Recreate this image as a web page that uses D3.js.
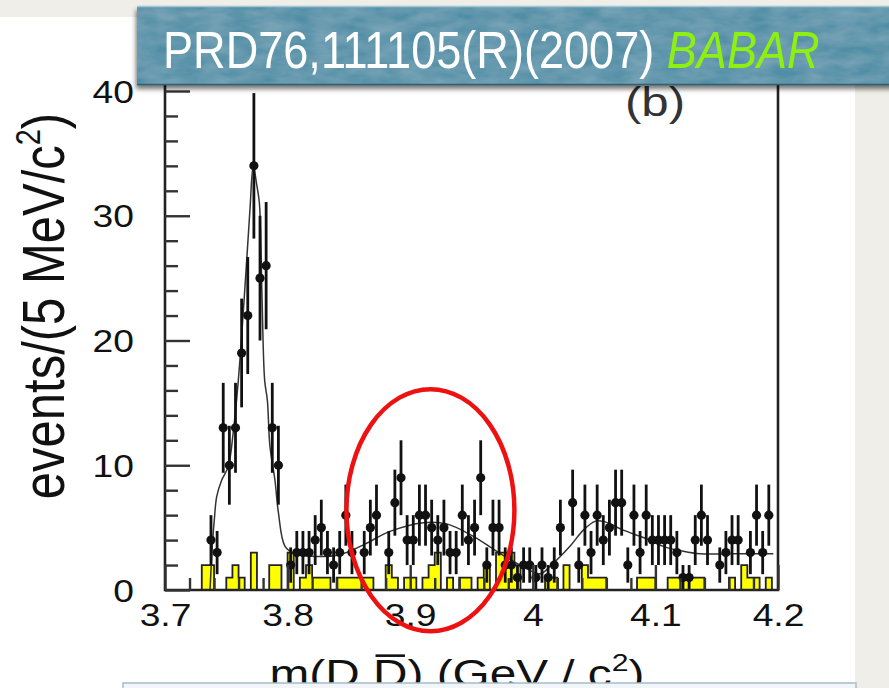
<!DOCTYPE html>
<html><head><meta charset="utf-8">
<script src="https://cdn.jsdelivr.net/npm/d3@7"></script>
<style>
html,body{margin:0;padding:0;background:#efeee8;}
svg{display:block;}
</style></head>
<body>
<svg id="chart" width="889" height="688"></svg>
<script>
// m(D Dbar) spectrum, 5 MeV/c^2 bins from 3.70 to 4.20 GeV/c^2
const binLow = 3.70, binWidth = 0.005;

// Data points: bin index and events per bin
const pointBins   = [7, 8, 9,10,11,12,13,14,15,16,17,18,20,21,22,23,24,25,26,27,28,29,30,32,33,34,36,37,38,39,40,41,42,43,44,45,46,47,48,49,50,51,52,53,54,55,56,57,58,59,60,61,62,63,64,66,67,68,69,70,71,72,73,74,75,76,77,78,79,80,81,82,83,84,85,86,87,88,90,91,92,93,95,96,97,98];
const pointCounts = [4, 3,13,10,13,19,22,34,25,26,13,10, 2, 3, 3, 3, 4, 5, 3, 2, 3, 6, 3, 3, 5, 6, 3, 7, 9, 4, 4, 6, 6, 5, 4, 5, 3, 3, 6, 4, 5, 9, 2, 5, 5, 2, 2, 1, 2, 2, 1, 2, 1, 2, 5, 7, 2, 6, 3, 6, 4, 5, 7, 7, 2, 6, 3, 6, 4, 4, 4, 4, 3, 1, 1, 4, 6, 4, 2, 3, 4, 4, 3, 6, 3, 6];

// Background histogram (yellow): bin index and events per bin
const bkgBins   = [6,7,10,11,12,14,17,18,20,22,23,24,25,26,28,29,30,31,32,33,36,37,39,40,42,43,44,46,48,49,51,52,54,55,56,57,62,63,65,68,69,70,71,77,78,79,82,83,84,85,86,87,92,94,95,96,98];
const bkgCounts = [2,2, 1, 2, 1, 3, 2, 2, 3, 1, 2, 1, 1, 1, 1, 1, 1, 1, 1, 1, 2, 1, 1, 1, 1, 2, 3, 1, 1, 1, 1, 2, 3, 3, 3, 2, 1, 1, 2, 2, 1, 1, 1, 1, 1, 1, 1, 1, 1, 1, 1, 1, 1, 2, 1, 1, 1];

// Fit curve samples (GeV/c^2, events)
const fitMass   = [3.7367,3.7389,3.7402,3.7422,3.7462,3.7516,3.7555,3.7598,3.7657,3.7693,3.7720,3.7748,3.7770,3.7790,3.7813,3.7835,3.7856,3.7897,3.7925,3.7979,3.8061,3.8197,3.8415,3.8615,3.8835,3.9107,3.9298,3.9515,3.9706,3.9896,4.0059,4.0140,4.0303,4.0412,4.0507,4.0575,4.0738,4.0929,4.1064,4.1228,4.1364,4.1635,4.1962];
const fitCounts = [0.0,   4.0,   5.6,   7.5,   8.8,   9.9,   12.5,  16.8,  25.0,  30.5,  34.0,  32.5,  31.0,  24.0,  16.8,  15.2,  11.5,  8.8,   6.2,   3.5,   2.9,   2.7,   2.8,   3.6,   4.7,   5.4,   5.3,   4.3,   3.1,   2.0,   1.3,   1.9,   3.5,   4.8,   5.5,   5.5,   4.8,   4.1,   3.5,   3.1,   2.9,   2.9,   2.9];

const xTicks = [3.7, 3.8, 3.9, 4.0, 4.1, 4.2];
const xTickLabels = ["3.7", "3.8", "3.9", "4", "4.1", "4.2"];
const yTicks = [0, 10, 20, 30, 40];

const svg = d3.select("#chart");
const W = 889, H = 688;
const stretch = 1.2; // glyphs of the plot are drawn wide

const x = d3.scaleLinear().domain([3.70, 4.20]).range([165, 778]);
const y = d3.scaleLinear().domain([0, 40]).range([590, 91]);

const defs = svg.append("defs");
// mottled texture for the title banner
const tex = defs.append("filter").attr("id", "tex").attr("x", 0).attr("y", 0).attr("width", 1).attr("height", 1);
tex.append("feTurbulence").attr("type", "fractalNoise").attr("baseFrequency", "0.035 0.09").attr("numOctaves", 3).attr("seed", 4).attr("result", "noise");
tex.append("feColorMatrix").attr("in", "noise").attr("type", "matrix")
  .attr("values", "0 0 0 0 0.85  0 0 0 0 0.95  0 0 0 0 1  0 0 0 0.22 -0.04").attr("result", "tint");
tex.append("feComposite").attr("in", "tint").attr("in2", "SourceGraphic").attr("operator", "in").attr("result", "tintc");
tex.append("feMerge").call(m => { m.append("feMergeNode").attr("in", "SourceGraphic"); m.append("feMergeNode").attr("in", "tintc"); });
const shadow = defs.append("filter").attr("id", "shadow").attr("x", -0.05).attr("y", -0.2).attr("width", 1.1).attr("height", 1.5);
shadow.append("feGaussianBlur").attr("in", "SourceAlpha").attr("stdDeviation", 2.5).attr("result", "b");
shadow.append("feOffset").attr("in", "b").attr("dx", -1).attr("dy", 4).attr("result", "o");
shadow.append("feComponentTransfer").attr("in", "o").attr("result", "oa").append("feFuncA").attr("type", "linear").attr("slope", 0.55);
shadow.append("feMerge").call(m => { m.append("feMergeNode").attr("in", "oa"); m.append("feMergeNode").attr("in", "SourceGraphic"); });

// page panels
svg.append("rect").attr("width", W).attr("height", H).attr("fill", "#efeee8");
svg.append("rect").attr("x", 0).attr("y", 17).attr("width", 855).attr("height", H - 17).attr("fill", "#ffffff");

const plot = svg.append("g");

// background histogram as a filled step contour
const bkgFull = d3.range(100).map(i => { const j = bkgBins.indexOf(i); return j < 0 ? 0 : bkgCounts[j]; });
const stepPts = [];
bkgFull.forEach((c, i) => {
  const lo = binLow + i * binWidth, hi = lo + binWidth;
  stepPts.push([lo, c], [hi, c]);
});
const areaGen = d3.area().x(d => x(d[0])).y0(y(0)).y1(d => y(d[1]));
const lineGen = d3.line().x(d => x(d[0])).y(d => y(d[1]));
plot.append("path").attr("d", areaGen(stepPts)).attr("fill", "#ffff00").attr("stroke", "none");
plot.append("path").attr("d", lineGen(stepPts)).attr("fill", "none").attr("stroke", "#222").attr("stroke-width", 1.8);

// fit curve
plot.append("path")
  .attr("d", d3.line().x((d, i) => x(fitMass[i])).y(d => y(d)).curve(d3.curveCatmullRom.alpha(0.5))(fitCounts))
  .attr("fill", "none").attr("stroke", "#333").attr("stroke-width", 1.5);

// data points with sqrt(N) error bars
const pts = pointBins.map((b, i) => ({ m: binLow + (b + 0.5) * binWidth, n: pointCounts[i] }));
const yTop = y.invert(80);
plot.selectAll("line.err").data(pts).join("line").attr("class", "err")
  .attr("x1", d => x(d.m)).attr("x2", d => x(d.m))
  .attr("y1", d => y(Math.min(d.n + Math.sqrt(d.n), yTop)))
  .attr("y2", d => y(Math.max(d.n - Math.sqrt(d.n), 0)))
  .attr("stroke", "#111").attr("stroke-width", 2.8);
plot.selectAll("circle.pt").data(pts).join("circle").attr("class", "pt")
  .attr("cx", d => x(d.m)).attr("cy", d => y(d.n)).attr("r", 4.6).attr("fill", "#111");

// frame
const frameTop = 78;
svg.append("path")
  .attr("d", `M${x(3.7)},${frameTop}V${y(0)}H${x(4.2)}V${frameTop}`)
  .attr("fill", "none").attr("stroke", "#222").attr("stroke-width", 2.6);

// axes with inward ticks
const axisFont = "'Liberation Sans', Arial, Helvetica, sans-serif";
const yAxis = svg.append("g").attr("transform", `translate(${x(3.7)},0)`)
  .call(d3.axisLeft(y).tickValues(yTicks).tickSizeInner(-25).tickSizeOuter(0).tickPadding(31).tickFormat(d3.format("d")));
const yMinor = svg.append("g").attr("transform", `translate(${x(3.7)},0)`)
  .call(d3.axisLeft(y).tickValues(d3.range(0, 41, 2).filter(v => v % 10 !== 0)).tickSizeInner(-13).tickSizeOuter(0).tickFormat(""));
const xAxis = svg.append("g").attr("transform", `translate(0,${y(0)})`)
  .call(d3.axisBottom(x).tickValues(xTicks).tickSizeInner(-25).tickSizeOuter(0).tickPadding(14).tickFormat((d, i) => xTickLabels[i]));
const xMinor = svg.append("g").attr("transform", `translate(0,${y(0)})`)
  .call(d3.axisBottom(x).tickValues(d3.range(3.72, 4.2, 0.02).filter(v => Math.abs(v * 10 - Math.round(v * 10)) > 1e-6)).tickSizeInner(-12).tickSizeOuter(0).tickFormat(""));
[yAxis, yMinor, xAxis, xMinor].forEach(g => {
  g.select(".domain").remove();
  g.selectAll(".tick line").attr("stroke", "#333").attr("stroke-width", 2.4);
  g.selectAll(".tick text").attr("fill", "#111").attr("font-family", axisFont).attr("font-size", 31)
    .each(function () {
      const t = d3.select(this);
      const x0 = +t.attr("x") || 0;
      t.attr("x", 0).attr("transform", `translate(${x0},0) scale(${stretch},1)`);
    });
});
yAxis.selectAll(".tick text").attr("dy", "0.36em");

// axis titles
svg.append("text")
  .attr("transform", `translate(64,306) scale(${stretch},1) rotate(-90)`)
  .attr("text-anchor", "middle").attr("font-family", axisFont).attr("font-size", 49).attr("fill", "#111")
  .call(t => {
    t.append("tspan").text("events/(5 MeV/c");
    t.append("tspan").attr("font-size", 29).attr("dy", -20).text("2");
    t.append("tspan").attr("dy", 20).text(")");
  });

// stretch a text horizontally about its anchor to span a given width
function spanWidth(sel, ax, width) {
  const w = sel.node().getComputedTextLength();
  sel.attr("transform", `translate(${ax},0) scale(${width / w},1) translate(${-ax},0)`);
  return width / w;
}

const xt = svg.append("text").attr("x", 457).attr("y", 687).attr("text-anchor", "middle")
  .attr("font-family", axisFont).attr("font-size", 38).attr("fill", "#111");
xt.append("tspan").text("m(D ");
xt.append("tspan").text("D");
xt.append("tspan").text(") (GeV / c");
xt.append("tspan").attr("font-size", 24).attr("dy", -16).text("2");
xt.append("tspan").attr("dy", 16).text(")");
const xtScale = spanWidth(xt, 457, 375);
// bar over the anti-D
{
  const ext = xt.node().getExtentOfChar(4);
  const gx = v => 457 + (v - 457) * xtScale;
  svg.append("line").attr("x1", gx(ext.x + 2)).attr("x2", gx(ext.x + ext.width - 2))
    .attr("y1", ext.y + 3).attr("y2", ext.y + 3).attr("stroke", "#111").attr("stroke-width", 2.6);
}

// panel label
svg.append("text").attr("x", 0).attr("y", 116).attr("text-anchor", "middle")
  .attr("transform", `translate(655,0) scale(${stretch},1)`)
  .attr("font-family", axisFont).attr("font-size", 41).attr("fill", "#333").text("(b)");

// highlighted region around 3.92 GeV/c^2
const ellC = { m: 3.9165, n: 6.4 }, ellR = { m: 0.0685, n: 9.7 };
svg.append("ellipse")
  .attr("cx", x(ellC.m)).attr("cy", y(ellC.n))
  .attr("rx", x(ellC.m + ellR.m) - x(ellC.m)).attr("ry", y(0) - y(ellR.n))
  .attr("fill", "none").attr("stroke", "#ee1111").attr("stroke-width", 4.5);

// footer box
svg.append("rect").attr("x", 123).attr("y", 683).attr("width", 733).attr("height", 10)
  .attr("fill", "#f3f6f8").attr("stroke", "#a7bccb").attr("stroke-width", 1.5);

// title banner
const banner = svg.append("g").attr("filter", "url(#shadow)");
banner.append("rect").attr("x", 137).attr("y", 6).attr("width", 760).attr("height", 79)
  .attr("fill", "#4f8ea6").attr("filter", "url(#tex)");
svg.append("line").attr("x1", 137).attr("x2", 889).attr("y1", 6.5).attr("y2", 6.5).attr("stroke", "#9fc7d6").attr("stroke-width", 1.5);
svg.append("line").attr("x1", 137).attr("x2", 889).attr("y1", 84.5).attr("y2", 84.5).attr("stroke", "#2f6174").attr("stroke-width", 1.5);
const title = svg.append("text").attr("x", 163).attr("y", 68)
  .attr("font-family", axisFont).attr("font-size", 52).attr("fill", "#ffffff");
title.append("tspan").text("PRD76,111105(R)(2007) ");
title.append("tspan").attr("fill", "#8ef010").attr("font-style", "italic").text("BABAR");
spanWidth(title, 163, 657);
</script>
</body></html>
